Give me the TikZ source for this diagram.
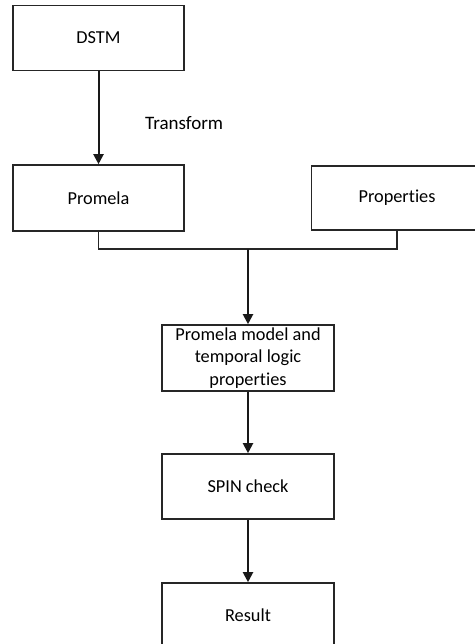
\documentclass[tikz,border=0pt]{standalone}
\usepackage{fontspec}
\setmainfont{Carlito}[Ligatures=NoCommon]
\usetikzlibrary{arrows.meta}
\begin{document}
\begin{tikzpicture}[x=1pt,y=-1pt,
  box/.style={draw=black!85,line width=1.6pt,rectangle,inner sep=0pt,
    minimum width=171pt,minimum height=65pt,align=center,
    font=\fontsize{18.3}{22.5}\selectfont},
  flow/.style={draw=black!90,line width=2pt,-{Triangle[width=10pt,length=10pt]}},
  link/.style={draw=black!85,line width=1.6pt}]
\useasboundingbox (0,0) rectangle (474,644);
\node[box] (dstm) at (98.5,38) {DSTM};
\node[box,minimum height=66pt] (promela) at (98.5,198) {Promela};
\node[box,minimum height=64pt] (props) at (397,198) {Properties};
\node[box,minimum height=66pt,minimum width=172pt] (model) at (248,358)
  {Promela model and\\temporal logic\\properties};
\node[box,minimum width=172pt] (spin) at (248,486.5) {SPIN check};
\node[box,minimum width=172pt] (result) at (248,615.5) {Result};
\node[font=\fontsize{19}{22}\selectfont,anchor=west,inner sep=0pt] (tlabel) at (145,123) {Transform};
\coordinate (join) at (248,249);
\draw[flow] (dstm) -- (promela);
\draw[link] (promela.south) |- (join) -| (props.south);
\draw[flow] (join) -- (model.north);
\draw[flow] (model) -- (spin);
\draw[flow] (spin) -- (result);
\end{tikzpicture}
\end{document}
